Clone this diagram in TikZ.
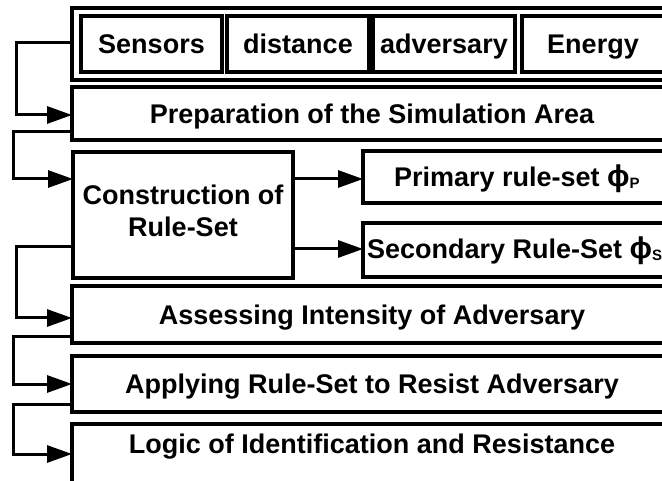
\documentclass[tikz,border=0pt]{standalone}
\usepackage{fontspec}
\setmainfont{Liberation Sans}
\usetikzlibrary{arrows.meta,calc}
\newcommand{\bigphi}{{\fontsize{30}{32}\selectfont ϕ}}
\newcommand{\subsc}[1]{\raisebox{-2pt}{\fontsize{15}{15}\selectfont #1}}
\begin{document}
\begin{tikzpicture}[x=1pt,y=-1pt,
  box/.style={draw=black,line width=3.2pt,rectangle,inner sep=0pt,outer sep=0pt,fill=white},
  lbl/.style={inner sep=0pt,outer sep=0pt,font=\fontsize{27}{32}\selectfont\bfseries,anchor=base},
  conn/.style={draw=black,line width=3pt,-{Triangle[length=25pt,width=17pt]}},
  link/.style={draw=black,line width=3pt}]
\useasboundingbox (0,0) rectangle (662,481);
\clip (0,0) rectangle (662,481);
\fill[white] (0,0) rectangle (662,481);
% top group
\node[box,minimum width=600pt,minimum height=72pt] (top) at (372,44) {};
\node[box,minimum width=141pt,minimum height=56pt] (sens) at (151.5,44) {};
\node[box,minimum width=142pt,minimum height=56pt] (dist) at (298,44) {};
\node[box,minimum width=142pt,minimum height=56pt] (adv) at (444,44) {};
\node[box,minimum width=142pt,minimum height=56pt,line width=3.6pt] (ener) at (593,44) {};
\node[lbl] (tsens) at (151.5,53.5) {Sensors};
\node[lbl] (tdist) at (298,53.5) {distance};
\node[lbl] (tadv) at (444,53.5) {adversary};
\node[lbl] (tener) at (593,53.5) {Energy};
% main boxes
\node[box,minimum width=600pt,minimum height=53pt] (prep) at (372,113.5) {};
\node[lbl] (tprep) at (372,123.5) {Preparation of the Simulation Area};
\node[box,minimum width=220pt,minimum height=126pt] (cons) at (183,215) {};
\node[lbl] (tcons1) at (183,205) {Construction of};
\node[lbl] (tcons2) at (183,237) {Rule-Set};
\node[box,minimum width=317pt,minimum height=52pt] (prim) at (521.5,177) {};
\node[lbl,anchor=base west] (tprim) at (394,187) {Primary rule-set \bigphi\subsc{P}};
\node[box,minimum width=317pt,minimum height=54pt] (sec) at (521.5,250) {};
\node[lbl,anchor=base west] (tsec) at (367,259) {Secondary Rule-Set \bigphi\subsc{S}};
\node[box,minimum width=600pt,minimum height=57pt] (assess) at (372,314.5) {};
\node[lbl] (tassess) at (372,325) {Assessing Intensity of Adversary};
\node[box,minimum width=600pt,minimum height=56pt] (apply) at (372,384) {};
\node[lbl] (tapply) at (372,393) {Applying Rule-Set to Resist Adversary};
\node[box,minimum width=600pt,minimum height=76pt] (logic) at (372,462) {};
\node[lbl] (tlogic) at (372,453) {Logic of Identification and Resistance};
% connectors
\coordinate (c1) at ([yshift=1pt]top.west);
\draw[conn] (c1) -- ++(-56,0) |- ([yshift=-1.5pt]prep.west);
\coordinate (c2) at ([yshift=-18.5pt]prep.west);
\draw[conn] (c2) -- ++(-59,0) |- ([yshift=36pt]cons.west);
\coordinate (c3) at ([yshift=-32pt]cons.west);
\draw[conn] (c3) -- ++(-57,0) |- ([yshift=-3.5pt]assess.west);
\coordinate (c4) at ([yshift=-22.5pt]assess.west);
\draw[conn] (c4) -- ++(-59,0) |- (apply.west);
\coordinate (c5) at ([yshift=-20pt]apply.west);
\draw[conn] (c5) -- ++(-59,0) |- ([yshift=8pt]logic.west);
\draw[conn] ([yshift=-2pt]cons.east |- prim.west) -- ([yshift=-2pt]prim.west);
\draw[conn] ([yshift=1pt]cons.east |- sec.west) -- ([yshift=1pt]sec.west);
\end{tikzpicture}
\end{document}
